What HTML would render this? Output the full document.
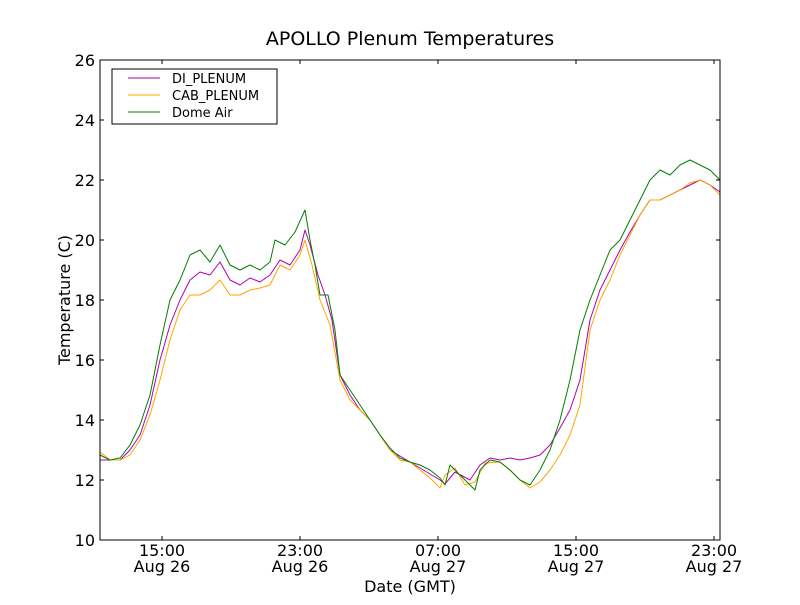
<!DOCTYPE html>
<html><head><meta charset="utf-8"><style>
body{margin:0;background:#fff}
text{font-family:"DejaVu Sans","Liberation Sans",sans-serif;fill:#000}
</style></head><body>
<svg width="800" height="600" viewBox="0 0 800 600" xmlns="http://www.w3.org/2000/svg">
<rect width="800" height="600" fill="#fff"/>
<text x="410" y="45" font-size="19" text-anchor="middle">APOLLO Plenum Temperatures</text>
<g fill="none" stroke-width="1" stroke-linejoin="round">
<polyline stroke="#b000b0" points="100,460 110,460 120,460 130,450 140,435 150,405 160,360 170,325 180,300 190,280 200,272 210,275 220,262 230,280 240,285 250,278 260,282 270,275 280,260 290,265 300,250 305,230 310,245 318,275 325,295 332,320 340,375 350,395 360,410 370,420 380,435 390,450 400,456 410,462 420,468 430,474 440,480 445,484 455,472 470,480 480,465 490,458 500,460 510,458 520,460 530,458 540,455 550,445 560,428 570,410 580,380 590,320 600,290 610,270 620,250 630,232 640,215 650,200 660,200 670,195 680,190 690,185 700,180 710,185 720,192"/>
<polyline stroke="#ffa500" points="100,452 110,460 120,460 130,455 140,440 150,415 160,380 170,340 180,310 190,295 200,295 210,290 220,280 230,295 240,295 250,290 260,288 270,285 280,265 290,270 300,255 305,240 312,265 320,300 330,325 340,380 350,400 360,410 370,420 380,435 390,450 400,460 410,462 420,470 430,478 440,488 445,475 455,468 465,485 475,482 485,463 500,462 510,470 520,480 530,488 540,482 550,470 560,455 570,435 580,405 590,330 600,300 610,280 620,255 630,235 640,215 650,200 660,200 670,195 680,190 690,183 700,180 710,185 720,195"/>
<polyline stroke="#008000" points="100,455 110,460 120,458 130,445 140,425 150,395 160,345 170,300 180,280 190,255 200,250 210,262 220,245 230,265 240,270 250,265 260,270 270,262 275,240 285,245 295,232 305,210 310,240 315,265 320,295 328,295 335,330 340,375 350,390 360,405 370,420 380,435 390,448 400,458 410,462 420,465 430,470 440,478 445,485 450,465 455,470 465,480 475,490 480,470 490,460 500,462 510,470 520,480 530,485 540,470 550,450 560,420 570,380 580,330 590,300 600,275 610,250 620,240 630,220 640,200 650,180 660,170 670,175 680,165 690,160 700,165 710,170 720,180"/>
</g>
<rect x="100" y="60" width="620" height="480" fill="none" stroke="#000"/>
<g stroke="#000">
<line x1="100" y1="540" x2="104" y2="540"/><line x1="100" y1="480" x2="104" y2="480"/><line x1="100" y1="420" x2="104" y2="420"/><line x1="100" y1="360" x2="104" y2="360"/><line x1="100" y1="300" x2="104" y2="300"/><line x1="100" y1="240" x2="104" y2="240"/><line x1="100" y1="180" x2="104" y2="180"/><line x1="100" y1="120" x2="104" y2="120"/><line x1="100" y1="60" x2="104" y2="60"/>
<line x1="720" y1="480" x2="716" y2="480"/><line x1="720" y1="420" x2="716" y2="420"/><line x1="720" y1="360" x2="716" y2="360"/><line x1="720" y1="300" x2="716" y2="300"/><line x1="720" y1="240" x2="716" y2="240"/><line x1="720" y1="180" x2="716" y2="180"/><line x1="720" y1="120" x2="716" y2="120"/>
<line x1="162" y1="540" x2="162" y2="536"/><line x1="300" y1="540" x2="300" y2="536"/><line x1="438" y1="540" x2="438" y2="536"/><line x1="576" y1="540" x2="576" y2="536"/><line x1="714" y1="540" x2="714" y2="536"/>
<line x1="162" y1="60" x2="162" y2="64"/><line x1="300" y1="60" x2="300" y2="64"/><line x1="438" y1="60" x2="438" y2="64"/><line x1="576" y1="60" x2="576" y2="64"/><line x1="714" y1="60" x2="714" y2="64"/>
</g>
<g font-size="16" text-anchor="end">
<text x="95" y="546">10</text><text x="95" y="486">12</text><text x="95" y="426">14</text><text x="95" y="366">16</text><text x="95" y="306">18</text><text x="95" y="246">20</text><text x="95" y="186">22</text><text x="95" y="126">24</text><text x="95" y="66">26</text>
</g>
<g font-size="16" text-anchor="middle">
<text x="162" y="556">15:00</text><text x="162" y="572">Aug 26</text>
<text x="300" y="556">23:00</text><text x="300" y="572">Aug 26</text>
<text x="438" y="556">07:00</text><text x="438" y="572">Aug 27</text>
<text x="576" y="556">15:00</text><text x="576" y="572">Aug 27</text>
<text x="714" y="556">23:00</text><text x="714" y="572">Aug 27</text>
<text x="410" y="592">Date (GMT)</text>
</g>
<text font-size="16" text-anchor="middle" transform="translate(70,300) rotate(-90)">Temperature (C)</text>
<rect x="112" y="69" width="165" height="55" fill="#fff" stroke="#000"/>
<line x1="128" y1="78" x2="160" y2="78" stroke="#b000b0"/>
<line x1="128" y1="95" x2="160" y2="95" stroke="#ffa500"/>
<line x1="128" y1="112" x2="160" y2="112" stroke="#008000"/>
<g font-size="13"><text x="172" y="83">DI_PLENUM</text><text x="172" y="100">CAB_PLENUM</text><text x="172" y="117">Dome Air</text></g>
</svg>
</body></html>
